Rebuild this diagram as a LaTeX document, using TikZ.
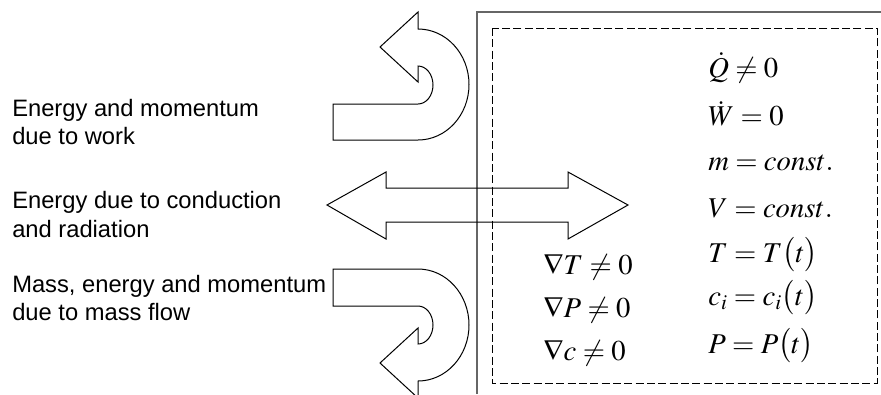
\documentclass[tikz,border=0pt]{standalone}
\usepackage{mathptmx}
\usepackage[no-math]{fontspec}
\setmainfont{Liberation Sans}
\usetikzlibrary{calc}

\tikzset{
  lbl/.style={anchor=base west, inner sep=0pt, font=\fontsize{17.8}{20}\selectfont},
  eq/.style={anchor=base west, inner sep=0pt, font=\fontsize{21.5}{24}\selectfont},
  flow/.style={draw=black, line width=0.75pt, line join=miter},
}

\begin{document}
\begin{tikzpicture}[x=0.75pt,y=-0.75pt]
\useasboundingbox (0,0) rectangle (881,394);

% system boundary
\draw[black!60, line width=1pt] (477,394) -- (477,12) -- (881,12);
\draw[dash pattern=on 6pt off 2.5pt, line width=0.75pt] (492,28) rectangle (877,383);

% work: U-turn arrow going out
\draw[flow] (333,104) -- (418,104) arc[start angle=90, end angle=-90, x radius=15, y radius=19]
  -- (418,82) -- (380,47) -- (418,12) -- (418,29)
  arc[start angle=-90, end angle=90, x radius=51, y radius=55.5] -- (333,140) -- cycle;

% conduction and radiation: double arrow
\draw[flow] (327,205) -- (386,172) -- (386,188) -- (568,188) -- (568,172) -- (628,205)
  -- (568,239) -- (568,222) -- (386,222) -- (386,239) -- cycle;

% mass flow: U-turn arrow
\draw[flow] (333,306) -- (418,306) arc[start angle=-90, end angle=90, x radius=15, y radius=19]
  -- (418,328) -- (380,363) -- (418,398) -- (418,381)
  arc[start angle=90, end angle=-90, x radius=51, y radius=56] -- (333,269) -- cycle;

% labels
\node[lbl] (work1) at (12,116) {Energy and momentum};
\node[lbl] (work2) at (12,144) {due to work};
\node[lbl] (heat1) at (12,208) {Energy due to conduction};
\node[lbl] (heat2) at (12,237) {and radiation};
\node[lbl] (mass1) at (12,292) {Mass, energy and momentum};
\node[lbl] (mass2) at (12,320) {due to mass flow};

% state of the system
\foreach \y/\eq [count=\i] in {77/{\dot{Q}\neq 0}, 125/{\dot{W}=0}, 170/{m=const.},
    217/{V=const.}, 262/{T=T\bigl(t\bigr)}, 305/{c_i=c_i\bigl(t\bigr)}, 353/{P=P\bigl(t\bigr)}}
  \node[eq] (state\i) at (708,\y) {$\eq$};

\foreach \y/\eq [count=\i] in {274/{\nabla T\neq 0}, 317/{\nabla P\neq 0}, 360/{\nabla c\neq 0}}
  \node[eq] (grad\i) at (543,\y) {$\eq$};

\end{tikzpicture}
\end{document}
